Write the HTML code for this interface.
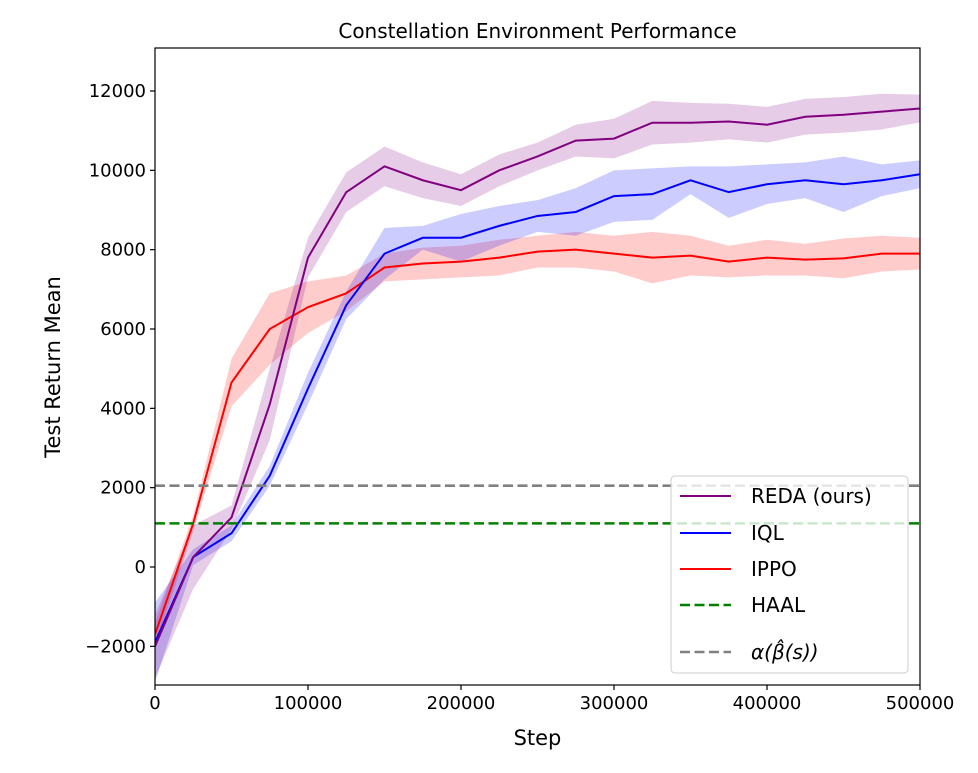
<!DOCTYPE html>
<html><head><meta charset="utf-8"><style>
body{margin:0;background:#fff}
svg text{font-family:"DejaVu Sans","Liberation Sans",sans-serif;fill:#000}
</style></head><body>
<svg id="chart" width="978" height="768" xmlns="http://www.w3.org/2000/svg">
<rect width="978" height="768" fill="#fff"/>
<g id="plot"></g>
</svg>
<script>
const steps=[0,25000,50000,75000,100000,125000,150000,175000,200000,225000,250000,275000,300000,325000,350000,375000,400000,425000,450000,475000,500000];
const redaMean=[-2000,250,1250,4100,7800,9450,10100,9750,9500,10000,10350,10750,10800,11200,11200,11230,11150,11350,11400,11480,11560];
const redaErr=[800,800,300,900,500,500,500,450,400,400,350,400,500,550,500,450,450,450,450,450,350];
const iqlMean=[-1900,250,850,2300,4500,6600,7900,8300,8300,8600,8850,8950,9350,9400,9750,9450,9650,9750,9650,9750,9900];
const iqlErr=[1000,200,200,250,400,350,650,300,600,500,400,600,650,650,350,650,500,450,700,400,350];
const ippoMean=[-1700,1100,4650,6000,6550,6900,7550,7650,7700,7800,7950,8000,7900,7800,7850,7700,7800,7750,7780,7900,7900];
const ippoErr=[300,200,600,900,650,450,350,400,400,450,400,450,450,650,500,400,450,400,500,450,400];
const haalValue=1100;
const alphaValue=2050;
const xTicks=[0,100000,200000,300000,400000,500000];
const yTicks=[-2000,0,2000,4000,6000,8000,10000,12000];

const L=155,R=920,T=48,B=685;
const xs=v=>L+(v/500000)*(R-L);
const ys=v=>567-v*(476/12000);
const NS='http://www.w3.org/2000/svg';
const g=document.getElementById('plot');
function mk(tag,attrs,parent){const e=document.createElementNS(NS,tag);for(const k in attrs)e.setAttribute(k,attrs[k]);(parent||g).appendChild(e);return e;}
const clip=mk('clipPath',{id:'clip'});mk('rect',{x:L,y:T,width:R-L,height:B-T},clip);
const area=mk('g',{'clip-path':'url(#clip)'});
function band(mean,err,color,name){
  let d='M'+steps.map((s,i)=>xs(s)+','+ys(mean[i]+err[i])).join('L');
  d+='L'+steps.map((s,i)=>[xs(s),ys(mean[i]-err[i])]).reverse().map(p=>p.join(',')).join('L')+'Z';
  const p=mk('path',{d:d,fill:color,'fill-opacity':0.2,stroke:'none'},area);
  
  
}
function line(mean,color,name){
  const p=mk('path',{d:'M'+steps.map((s,i)=>xs(s)+','+ys(mean[i])).join('L'),fill:'none',stroke:color,'stroke-width':2},area);
  
  
}
band(ippoMean,ippoErr,'#ff0000','ippo');
band(iqlMean,iqlErr,'#0000ff','iql');
band(redaMean,redaErr,'#800080','reda');
line(ippoMean,'#ff0000','ippo');
line(iqlMean,'#0000ff','iql');
line(redaMean,'#800080','reda');
let h=mk('line',{x1:L,x2:R,y1:ys(haalValue),y2:ys(haalValue),stroke:'#008000','stroke-width':2.6,'stroke-dasharray':'10,4.5'},area);

let a=mk('line',{x1:L,x2:R,y1:ys(alphaValue),y2:ys(alphaValue),stroke:'#808080','stroke-width':2.6,'stroke-dasharray':'10,4.5'},area);

const fr=mk('rect',{x:L,y:T,width:R-L,height:B-T,fill:'none',stroke:'#000','stroke-width':1.2});

xTicks.forEach(t=>{
  mk('line',{x1:xs(t),x2:xs(t),y1:B,y2:B+5,stroke:'#000','stroke-width':1.2});
  const tx=mk('text',{x:xs(t),y:B+24,'text-anchor':'middle','font-size':18});tx.textContent=t;
  
});
yTicks.forEach(t=>{
  mk('line',{x1:L-5,x2:L,y1:ys(t),y2:ys(t),stroke:'#000','stroke-width':1.2});
  const tx=mk('text',{x:L-9,y:ys(t)+6,'text-anchor':'end','font-size':18});tx.textContent=t<0?'\u2212'+(-t):t;
  
});
let tt=mk('text',{x:(L+R)/2,y:38,'text-anchor':'middle','font-size':20});tt.textContent='Constellation Environment Performance';

let xt=mk('text',{x:(L+R)/2,y:745,'text-anchor':'middle','font-size':21});xt.textContent='Step';

let yt=mk('text',{x:0,y:0,'text-anchor':'middle','font-size':21,transform:'translate(60,367) rotate(-90)'});yt.textContent='Test Return Mean';

const lg=mk('g',{});
mk('rect',{x:671,y:476,width:237,height:197,rx:4,fill:'#fff','fill-opacity':0.8,stroke:'#ccc','stroke-width':1},lg);
const ents=[['REDA (ours)','#800080',null,496],['IQL','#0000ff',null,533],['IPPO','#ff0000',null,569],['HAAL','#008000','10,4.5',605],['α(β̂(s))','#808080','10,4.5',652]];
ents.forEach(e=>{
  const eg=mk('g',{},lg);
  const at={x1:680,x2:731,y1:e[3],y2:e[3],stroke:e[1],'stroke-width':e[2]?2.6:2};if(e[2])at['stroke-dasharray']=e[2];
  mk('line',at,eg);
  const t=mk('text',{x:751,y:e[3]+7,'font-size':20},eg);
  if(e[0].startsWith('α')){t.setAttribute('font-style','italic');}
  t.textContent=e[0];
});
</script>
</body></html>
